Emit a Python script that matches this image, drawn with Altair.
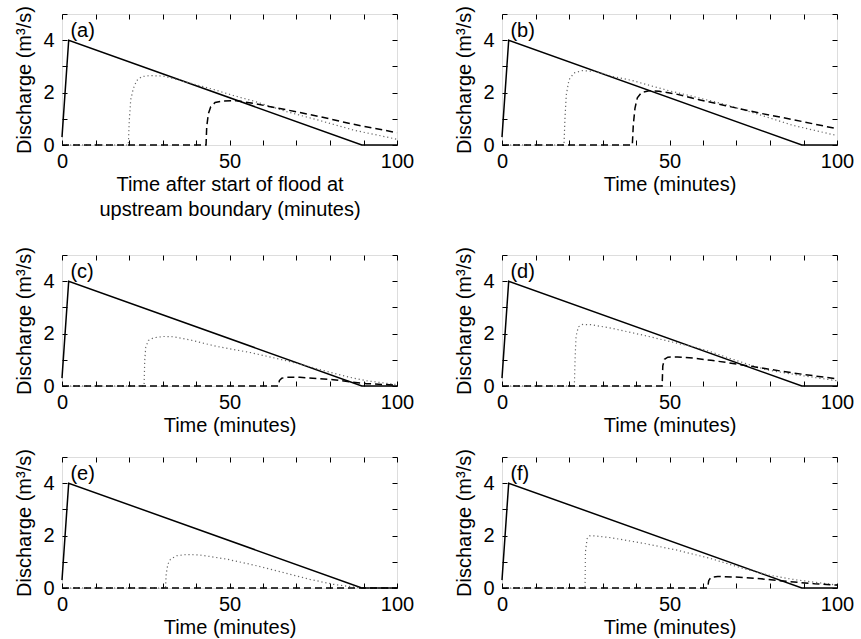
import altair as alt
import pandas as pd

FONT = "Liberation Sans"

# Shared upstream hydrograph (solid)
SOLID_T = [0, 2, 89.5, 100]
SOLID_Q = [0.3, 4.0, 0.0, 0.0]

# Panel (a)
A_DOT_T = [0, 19.8, 20.1, 20.5, 21.3, 22.3, 23.8, 26.3, 30.3, 33.7, 39.2, 45.2, 51.1, 57.1, 67.1, 77.1, 87.0, 100]
A_DOT_Q = [0, 0, 0.95, 1.72, 2.16, 2.46, 2.61, 2.65, 2.63, 2.52, 2.33, 2.12, 1.89, 1.68, 1.27, 0.93, 0.57, 0.22]
A_DASH_T = [0, 43.0, 43.2, 43.7, 44.4, 45.7, 48.2, 52.1, 57.1, 67.1, 77.1, 87.0, 100]
A_DASH_Q = [0, 0, 0.70, 1.20, 1.46, 1.62, 1.68, 1.69, 1.59, 1.34, 1.08, 0.79, 0.47]

# Panel (b)
B_DOT_T = [0, 18.5, 18.8, 19.2, 20.0, 21.5, 24.0, 27.9, 32.9, 38.9, 43.9, 49.9, 56.8, 66.8, 76.8, 86.8, 100]
B_DOT_Q = [0, 0, 1.03, 1.92, 2.49, 2.75, 2.84, 2.81, 2.62, 2.46, 2.28, 2.07, 1.86, 1.54, 1.16, 0.75, 0.36]
B_DASH_T = [0, 38.9, 39.2, 39.7, 40.4, 41.7, 43.9, 46.9, 51.8, 58.8, 66.8, 76.8, 86.8, 100]
B_DASH_Q = [0, 0, 0.78, 1.41, 1.80, 2.01, 2.07, 2.05, 1.95, 1.73, 1.50, 1.22, 0.97, 0.62]

# Panel (c)
C_DOT_T = [0, 24.5, 24.7, 25.0, 25.8, 27.3, 30.3, 33.2, 38.2, 46.2, 56.1, 64.1, 71.0, 76.0, 81.0, 86.0, 90.9, 98.9, 100]
C_DOT_Q = [0, 0, 0.98, 1.48, 1.74, 1.84, 1.89, 1.88, 1.76, 1.51, 1.28, 1.05, 0.84, 0.66, 0.49, 0.33, 0.20, 0.07, 0.06]
C_DASH_T = [0, 64.6, 64.9, 65.6, 67.1, 71.0, 76.0, 81.0, 86.0, 90.9, 98.9, 100]
C_DASH_Q = [0, 0, 0.21, 0.30, 0.33, 0.33, 0.29, 0.24, 0.16, 0.09, 0.04, 0.04]

# Panel (d)
D_DOT_T = [0, 21.6, 21.8, 22.1, 22.8, 24.1, 26.6, 32.5, 42.5, 52.4, 57.4, 62.4, 67.4, 73.4, 79.3, 87.3, 100]
D_DOT_Q = [0, 0, 1.02, 1.90, 2.26, 2.35, 2.34, 2.21, 1.93, 1.63, 1.49, 1.30, 1.08, 0.83, 0.61, 0.44, 0.20]
D_DASH_T = [0, 47.8, 48.0, 48.5, 49.5, 52.4, 57.4, 62.4, 67.4, 73.4, 79.3, 87.3, 100]
D_DASH_Q = [0, 0, 0.77, 1.02, 1.10, 1.11, 1.06, 0.98, 0.89, 0.77, 0.65, 0.49, 0.27]

# Panel (e)
E_DOT_T = [0, 30.9, 31.1, 31.6, 32.4, 34.2, 37.2, 41.2, 49.2, 57.1, 66.1, 74.0, 81.0, 86.9, 89.9, 100]
E_DOT_Q = [0, 0, 0.53, 0.91, 1.10, 1.23, 1.28, 1.26, 1.10, 0.88, 0.59, 0.33, 0.14, 0.04, 0.0, 0.0]
E_DASH_T = [0, 100]
E_DASH_Q = [0, 0]

# Panel (f)
F_DOT_T = [0, 24.8, 24.9, 25.4, 26.1, 27.6, 32.5, 42.5, 52.4, 62.4, 72.4, 79.3, 87.3, 95.2, 100]
F_DOT_Q = [0, 0, 1.37, 1.88, 1.99, 1.99, 1.92, 1.70, 1.44, 1.12, 0.73, 0.50, 0.32, 0.19, 0.11]
F_DASH_T = [0, 61.4, 61.7, 62.4, 64.4, 69.4, 77.3, 85.3, 93.3, 100]
F_DASH_Q = [0, 0, 0.28, 0.41, 0.44, 0.42, 0.35, 0.25, 0.16, 0.11]

PANELS = {
    "a": (A_DOT_T, A_DOT_Q, A_DASH_T, A_DASH_Q),
    "b": (B_DOT_T, B_DOT_Q, B_DASH_T, B_DASH_Q),
    "c": (C_DOT_T, C_DOT_Q, C_DASH_T, C_DASH_Q),
    "d": (D_DOT_T, D_DOT_Q, D_DASH_T, D_DASH_Q),
    "e": (E_DOT_T, E_DOT_Q, E_DASH_T, E_DASH_Q),
    "f": (F_DOT_T, F_DOT_Q, F_DASH_T, F_DASH_Q),
}

X_TICKS = list(range(0, 101, 10))
Y_TICKS = [0, 1, 2, 3, 4, 5]
Y_TITLE = "Discharge (m³/s)"
X_TITLE = "Time (minutes)"
X_TITLE_A = ["Time after start of flood at", "upstream boundary (minutes)"]

W, H = 335, 131
FS = 20


def make_df(key):
    dot_t, dot_q, dash_t, dash_q = PANELS[key]
    rows = []
    for t, q in zip(SOLID_T, SOLID_Q):
        rows.append({"t": t, "q": q, "s": "solid"})
    for t, q in zip(dot_t, dot_q):
        rows.append({"t": t, "q": q, "s": "dotted"})
    for t, q in zip(dash_t, dash_q):
        rows.append({"t": t, "q": q, "s": "dashed"})
    return pd.DataFrame(rows)


def panel(key, xtitle):
    df = make_df(key)
    xs = alt.Scale(domain=[0, 100], nice=False, zero=False)
    ys = alt.Scale(domain=[0, 5], nice=False)
    common = dict(offset=-5, tickSize=5, domain=False, grid=False,
                  tickColor="black", labelColor="black", titleColor="black",
                  labelFont=FONT, titleFont=FONT, labelFontSize=FS, titleFontSize=FS,
                  titleFontWeight="normal", labelFontWeight="normal", labelOverlap=False)
    xb = alt.Axis(orient="bottom", values=X_TICKS,
                  labelExpr="datum.value % 50 === 0 ? datum.label : ''",
                  labelFlush=False, labelPadding=6, title=xtitle, titlePadding=3,
                  titleLineHeight=25, **common)
    yl = alt.Axis(orient="left", values=Y_TICKS,
                  labelExpr="datum.value % 2 === 0 ? datum.label : ''",
                  labelPadding=8, title=Y_TITLE, titlePadding=8, **common)
    xt = alt.Axis(orient="top", values=X_TICKS, labels=False, title="", **common)
    yr = alt.Axis(orient="right", values=Y_TICKS, labels=False, title="", **common)

    base = alt.Chart(df)
    solid = base.transform_filter(alt.datum.s == "solid").mark_line(
        color="black", strokeWidth=1.5).encode(
        x=alt.X("t:Q", scale=xs, axis=xb), y=alt.Y("q:Q", scale=ys, axis=yl))
    dotted = base.transform_filter(alt.datum.s == "dotted").mark_line(
        color="#666666", strokeWidth=1.2, strokeDash=[1.2, 2.8]).encode(
        x=alt.X("t:Q", scale=xs, axis=None), y=alt.Y("q:Q", scale=ys, axis=None))
    dashed = base.transform_filter(alt.datum.s == "dashed").mark_line(
        color="black", strokeWidth=1.5, strokeDash=[7, 4]).encode(
        x=alt.X("t:Q", scale=xs, axis=None), y=alt.Y("q:Q", scale=ys, axis=None))
    ticks2 = base.transform_filter(alt.datum.s == "solid").mark_line(opacity=0).encode(
        x=alt.X("t:Q", scale=xs, axis=xt), y=alt.Y("q:Q", scale=ys, axis=yr))
    lab = alt.Chart(pd.DataFrame({"t": [2.5], "q": [4.36], "txt": [f"({key})"]})).mark_text(
        align="left", baseline="middle", font=FONT, fontSize=FS, color="black").encode(
        x=alt.X("t:Q", scale=xs, axis=None), y=alt.Y("q:Q", scale=ys, axis=None), text="txt:N")
    return alt.layer(solid, dotted, dashed, lab, ticks2).resolve_axis(
        x="independent", y="independent").properties(width=W, height=H)


row1 = alt.hconcat(panel("a", X_TITLE_A), panel("b", X_TITLE), spacing=39)
row2 = alt.hconcat(panel("c", X_TITLE), panel("d", X_TITLE), spacing=39)
row3 = alt.hconcat(panel("e", X_TITLE), panel("f", X_TITLE), spacing=39)

chart = alt.vconcat(row1, alt.vconcat(row2, row3, spacing=10), spacing=24).properties(
    padding={"left": 14, "top": 3, "right": 0, "bottom": 0}
).configure_view(stroke="black", strokeWidth=1).configure(background="white")

chart.save("out.html", embed_options={"renderer": "svg", "actions": False})
